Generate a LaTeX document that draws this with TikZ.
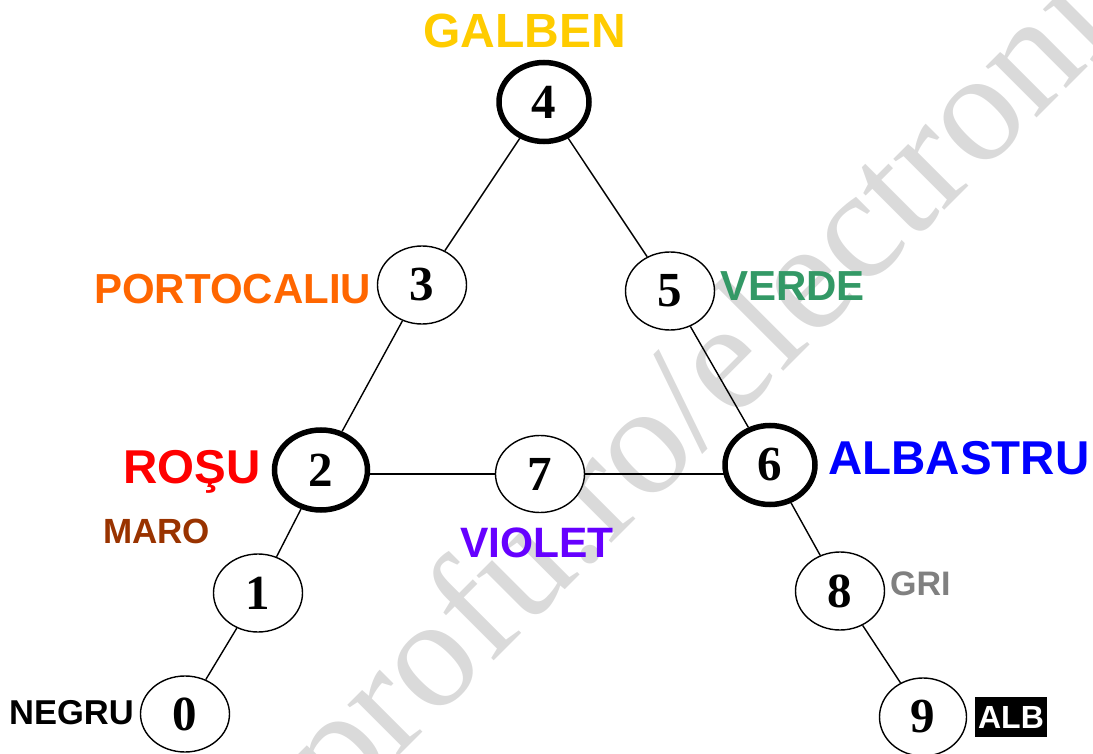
\documentclass[tikz,border=0pt]{standalone}
\usepackage{fontspec}
\setmainfont{Liberation Serif}
\newfontfamily\lsans{Liberation Sans}
\usetikzlibrary{shapes.geometric,backgrounds}
\definecolor{cgalben}{HTML}{FFCC00}
\definecolor{cporto}{HTML}{FF6600}
\definecolor{cverde}{HTML}{339966}
\definecolor{crosu}{HTML}{FF0000}
\definecolor{calbas}{HTML}{0000FF}
\definecolor{cmaro}{HTML}{993300}
\definecolor{cviolet}{HTML}{6600FF}
\definecolor{cgri}{HTML}{808080}
\definecolor{cwm}{HTML}{DADADA}
\begin{document}
\begin{tikzpicture}[x=1pt,y=-1pt,
  vtx/.style={ellipse,draw,line width=1.4pt,fill=white,inner sep=0pt,
    minimum width=89pt,minimum height=78pt,
    font=\fontsize{49}{49}\selectfont\bfseries},
  vtxk/.style={vtx,line width=5.5pt,minimum width=90pt,minimum height=79pt},
  lbl/.style={anchor=base west,inner sep=0pt,font=\lsans\bfseries\fontsize{#1}{#1}\selectfont},
  link/.style={line width=1.4pt}
]
\useasboundingbox (0,0) rectangle (1093,754);
\clip (0,0) rectangle (1093,754);
\begin{scope}[on background layer]
\node[rotate=45,anchor=base west,inner sep=0pt,text=cwm,
  font=\fontsize{157}{157}\selectfont] (wm) at (341,814) {profu.ro/electronica};
\end{scope}

% vertices
\node[vtxk] (n4) at (544,102) {4};
\node[vtx]  (n3) at (422,285) {3};
\node[vtx]  (n5) at (670,291) {5};
\node[vtxk,minimum width=93pt,minimum height=80pt] (n2) at (321,470) {2};
\node[vtx,minimum height=77pt] (n7) at (540,474) {7};
\node[vtxk] (n6) at (770,465) {6};
\node[vtx]  (n1) at (258,593) {1};
\node[vtx,minimum height=76pt] (n0) at (185,714) {0};
\node[vtx]  (n8) at (840,591) {8};
\node[vtx,minimum width=87pt]  (n9) at (923,717) {9};

% edges
\begin{scope}[on background layer]
\draw[link] (n4) -- (n3);
\draw[link] (n4) -- (n5);
\draw[link] (n3) -- (n2);
\draw[link] (n5) -- (n6);
\draw[link] (n7) -- (n2 |- n7);
\draw[link] (n7) -- (n6 |- n7);
\draw[link] (n2) -- (n1);
\draw[link] (n1) -- (n0);
\draw[link] (n6) -- (n8);
\draw[link] (n8) -- (n9);
\end{scope}

% labels
\node[lbl=48,text=cgalben] (lgalben) at (423,48) {GALBEN};
\node[lbl=42,text=cporto] (lporto) at (94,303) {PORTOCALIU};
\node[lbl=42,text=cverde] (lverde) at (720,301) {VERDE};
\node[lbl=47.5,text=crosu] (lrosu) at (123,483) {ROŞU};
\node[lbl=47.5,text=calbas] (lalbas) at (828,474) {ALBASTRU};
\node[lbl=35,text=cmaro] (lmaro) at (103,543) {MARO};
\node[lbl=42.5,text=cviolet] (lviolet) at (460,557) {VIOLET};
\node[lbl=34,text=cgri] (lgri) at (890,595) {GRI};
\node[lbl=34.5,text=black] (lnegru) at (9,724) {NEGRU};
\node[fill=black,text=white,inner sep=0pt,minimum width=72pt,minimum height=40pt,
  font=\lsans\bfseries\fontsize{32}{32}\selectfont] (lalb) at (1011,717) {ALB};
\end{tikzpicture}
\end{document}
